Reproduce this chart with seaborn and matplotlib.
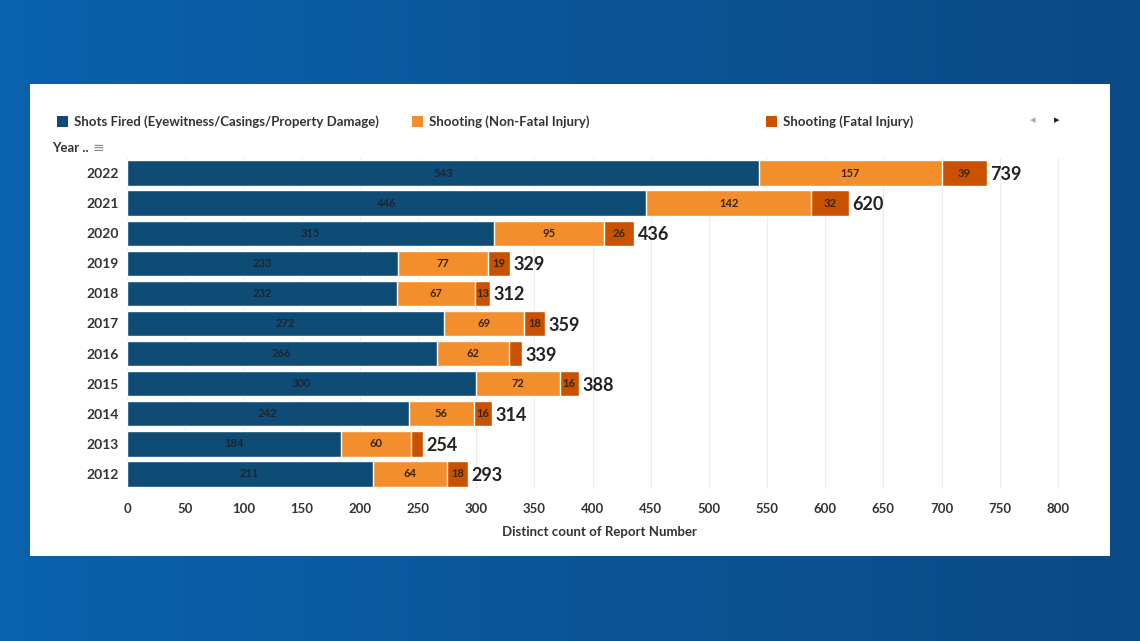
import matplotlib.pyplot as plt
import seaborn as sns
import pandas as pd
import numpy as np
from matplotlib.patches import Rectangle

years = ['2022', '2021', '2020', '2019', '2018', '2017', '2016', '2015', '2014', '2013', '2012']
shots_fired = [543, 446, 315, 233, 232, 272, 266, 300, 242, 184, 211]
non_fatal = [157, 142, 95, 77, 67, 69, 62, 72, 56, 60, 64]
fatal = [39, 32, 26, 19, 13, 18, 11, 16, 16, 10, 18]
series_names = ['Shots Fired (Eyewitness/Casings/Property Damage)',
                'Shooting (Non-Fatal Injury)', 'Shooting (Fatal Injury)']
colors = ['#0f4c75', '#f28e2b', '#c85200']

df = pd.DataFrame({'year': years, 'shots': shots_fired, 'nonfatal': non_fatal, 'fatal': fatal})
df['c1'] = df['shots']
df['c2'] = df['shots'] + df['nonfatal']
df['total'] = df['c2'] + df['fatal']

sns.set_style('white')
plt.rcParams['font.family'] = ['Lato', 'DejaVu Sans']

fig = plt.figure(figsize=(11.4, 6.41), dpi=100)
fig.patch.set_facecolor('#0c5a9e')

# background gradient
bg = fig.add_axes([0, 0, 1, 1], zorder=-10)
grad = np.linspace(0, 1, 256).reshape(1, -1)
bg.imshow(grad, aspect='auto', cmap=sns.blend_palette(['#0a62ad', '#0b5597', '#0a4a86'], as_cmap=True),
          extent=[0, 1, 0, 1])
bg.axis('off')

# white panel
fig.patches.append(Rectangle((30 / 1140, 1 - 556 / 641), 1080 / 1140, 472 / 641,
                             transform=fig.transFigure, facecolor='white', edgecolor='none', zorder=-5))

ax = fig.add_axes([127 / 1140, 1 - 489 / 641, 945 / 1140, 331 / 641])
ax.set_facecolor('white')

order = years
for col, c in zip(['total', 'c2', 'c1'], colors[::-1]):
    sns.barplot(data=df, x=col, y='year', order=order, orient='h', color=c,
                width=0.84, edgecolor='white', linewidth=1, ax=ax, saturation=1)

ax.set_xlim(0, 812)
ax.set_ylim(10.5, -0.5)
ax.set_xticks(range(0, 801, 50))
ax.xaxis.grid(True, color='#ececec', linewidth=0.8)
ax.set_axisbelow(True)
for s in ax.spines.values():
    s.set_visible(False)
ax.tick_params(axis='x', length=0, labelsize=9.5, colors='#333333', pad=10)
ax.tick_params(axis='y', length=0, labelsize=10, colors='#333333', pad=6)
for lab in ax.get_yticklabels() + ax.get_xticklabels():
    lab.set_fontweight('bold')
ax.set_ylabel('')
ax.set_xlabel('Distinct count of Report Number', fontsize=9.5, fontweight='bold', color='#333333', labelpad=8)

# segment labels
for i, row in df.iterrows():
    segs = [(0, row['shots']), (row['c1'], row['nonfatal']), (row['c2'], row['fatal'])]
    for start, w in segs:
        if w > 12:
            ax.text(start + w / 2, i, str(w), ha='center', va='center', fontsize=8, fontweight='bold',
                    color='#1a2533' if start == 0 else '#3a2410')
    ax.text(row['total'] + 3, i + 0.05, str(row['total']), ha='left', va='center',
            fontsize=13, fontweight='bold', color='#222222')

# legend
for name, c, xp in zip(series_names, colors, [57, 412, 766]):
    fig.patches.append(Rectangle((xp / 1140, 1 - 127 / 641), 11 / 1140, 11 / 641,
                                 transform=fig.transFigure, facecolor=c, edgecolor='none'))
    fig.text((xp + 17) / 1140, 1 - 122 / 641, name, fontsize=9.5, fontweight='bold',
             color='#333333', va='center', ha='left')
fig.text(1033 / 1140, 1 - 120 / 641, '\u25c2', fontsize=8, color='#aaaaaa', ha='center', va='center',
         family=['DejaVu Sans'])
fig.text(1057 / 1140, 1 - 120 / 641, '\u25b8', fontsize=8, color='#222222', ha='center', va='center',
         family=['DejaVu Sans'])
fig.text(52 / 1140, 1 - 148 / 641, 'Year ..', fontsize=9.5, fontweight='bold', color='#333333',
         va='center', ha='left')
fig.text(93 / 1140, 1 - 148 / 641, '\u2261', fontsize=10, color='#888888', va='center', ha='left',
         family=['DejaVu Sans'])

fig.savefig('out.png', dpi=100, facecolor=fig.get_facecolor())
